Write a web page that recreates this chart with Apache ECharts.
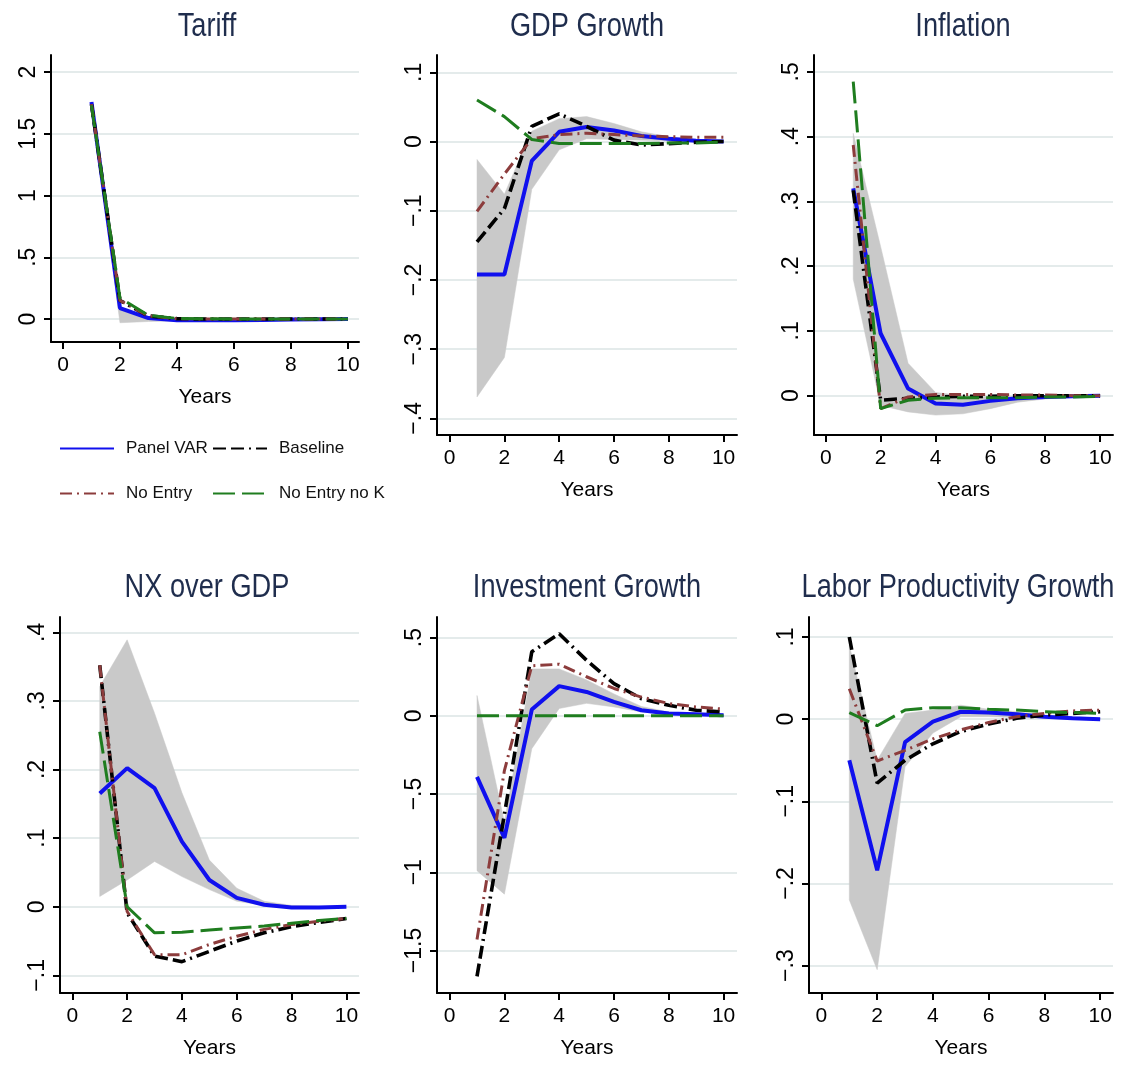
<!DOCTYPE html>
<html>
<head>
<meta charset="utf-8">
<script src="https://cdn.jsdelivr.net/npm/echarts@6/dist/echarts.min.js"></script>
<style>
html,body{margin:0;padding:0;background:#fff;}
#chart{width:1121px;height:1068px;}
</style>
</head>
<body>
<div id="chart"></div>
<script>
// ---------- DATA ----------
const years = [1, 2, 3, 4, 5, 6, 7, 8, 9, 10];
const xTicks = [0, 2, 4, 6, 8, 10];

const seriesNames = ['Panel VAR', 'Baseline', 'No Entry', 'No Entry no K'];

// Tariff
const tariffTicks = [0, 0.5, 1, 1.5, 2];
const tariffVAR      = [1.758, 0.089, 0.008, -0.01, -0.01, -0.01, -0.008, -0.004, -0.002, 0];
const tariffBaseline = [1.74, 0.15, 0.025, 0.003, 0, 0, 0, 0, 0, 0];
const tariffNoEntry  = [1.74, 0.15, 0.025, 0.003, 0, 0, 0, 0, 0, 0];
const tariffNoEntryK = [1.73, 0.17, 0.03, 0.005, 0.002, 0, 0, 0, 0, 0];
const tariffLo       = [1.74, -0.03, -0.02, -0.015, -0.012, -0.01, -0.008, -0.005, -0.003, 0];
const tariffHi       = [1.76, 0.1, 0.02, 0.005, 0.002, 0, 0, 0, 0, 0];

// GDP Growth
const gdpTicks = [-0.4, -0.3, -0.2, -0.1, 0, 0.1];
const gdpVAR      = [-0.192, -0.192, -0.028, 0.014, 0.021, 0.016, 0.008, 0.004, 0.001, 0];
const gdpBaseline = [-0.145, -0.097, 0.022, 0.040, 0.022, 0.002, -0.005, -0.003, -0.001, 0];
const gdpNoEntry  = [-0.101, -0.047, 0.004, 0.010, 0.012, 0.010, 0.008, 0.007, 0.006, 0.006];
const gdpNoEntryK = [0.060, 0.036, 0.003, -0.003, -0.003, -0.003, -0.003, -0.002, -0.002, -0.001];
const gdpLo       = [-0.369, -0.312, -0.069, -0.012, 0.004, 0.003, 0.002, 0.001, 0, 0];
const gdpHi       = [-0.026, -0.076, 0.015, 0.033, 0.036, 0.026, 0.014, 0.007, 0.003, 0.001];

// Inflation
const inflTicks = [0, 0.1, 0.2, 0.3, 0.4, 0.5];
const inflVAR      = [0.32, 0.096, 0.011, -0.012, -0.014, -0.008, -0.004, -0.002, -0.001, 0];
const inflBaseline = [0.317, -0.007, -0.004, -0.002, -0.001, -0.001, 0, 0, 0, 0];
const inflNoEntry  = [0.387, -0.02, -0.002, 0.002, 0.002, 0.002, 0.001, 0.001, 0, 0];
const inflNoEntryK = [0.485, -0.02, -0.007, -0.004, -0.003, -0.003, -0.003, -0.002, -0.002, -0.001];
const inflLo       = [0.18, -0.015, -0.025, -0.03, -0.028, -0.02, -0.01, -0.005, -0.002, 0];
const inflHi       = [0.405, 0.23, 0.05, 0.005, 0, -0.002, -0.001, 0, 0, 0];

// NX over GDP
const nxTicks = [-0.1, 0, 0.1, 0.2, 0.3, 0.4];
const nxVAR      = [0.165, 0.202, 0.173, 0.095, 0.039, 0.013, 0.003, -0.001, -0.001, 0];
const nxBaseline = [0.352, -0.009, -0.072, -0.080, -0.065, -0.050, -0.038, -0.029, -0.023, -0.017];
const nxNoEntry  = [0.352, -0.007, -0.070, -0.070, -0.055, -0.043, -0.033, -0.026, -0.021, -0.017];
const nxNoEntryK = [0.255, 0.0, -0.038, -0.037, -0.034, -0.031, -0.028, -0.024, -0.020, -0.017];
const nxLo       = [0.015, 0.039, 0.066, 0.044, 0.025, 0.008, 0.002, 0, 0, 0];
const nxHi       = [0.321, 0.389, 0.282, 0.166, 0.068, 0.027, 0.008, 0.002, 0.001, 0];

// Investment Growth
const invTicks = [-1.5, -1, -0.5, 0, 0.5];
const invVAR      = [-0.39, -0.78, 0.04, 0.19, 0.153, 0.089, 0.036, 0.015, 0.01, 0.004];
const invBaseline = [-1.666, -0.63, 0.41, 0.525, 0.355, 0.206, 0.11, 0.068, 0.036, 0.025];
const invNoEntry  = [-1.43, -0.35, 0.32, 0.33, 0.25, 0.175, 0.12, 0.079, 0.057, 0.043];
const invNoEntryK = [0, 0, 0, 0, 0, 0, 0, 0, 0, 0];
const invLo       = [-0.99, -1.14, -0.21, 0.047, 0.08, 0.057, 0.025, 0.01, 0.005, 0];
const invHi       = [0.13, -0.68, 0.30, 0.30, 0.23, 0.14, 0.06, 0.025, 0.01, 0.005];

// Labor Productivity Growth
const labTicks = [-0.3, -0.2, -0.1, 0, 0.1];
const labVAR      = [-0.05, -0.184, -0.028, -0.003, 0.009, 0.008, 0.006, 0.003, 0.001, 0];
const labBaseline = [0.1, -0.078, -0.05, -0.03, -0.015, -0.006, 0.001, 0.005, 0.007, 0.009];
const labNoEntry  = [0.037, -0.051, -0.038, -0.024, -0.013, -0.004, 0.003, 0.007, 0.010, 0.011];
const labNoEntryK = [0.008, -0.008, 0.011, 0.014, 0.014, 0.012, 0.011, 0.009, 0.008, 0.007];
const labLo       = [-0.22, -0.305, -0.058, -0.017, 0.003, 0.003, 0.002, 0.001, 0, 0];
const labHi       = [0.09, -0.05, 0.007, 0.011, 0.017, 0.012, 0.009, 0.005, 0.003, 0.001];

// ---------- LAYOUT / STYLE ----------
const SANS = "'Liberation Sans', Arial, sans-serif";

const panels = [
  {title: 'Tariff', ticks: tariffTicks, lines: [tariffVAR, tariffBaseline, tariffNoEntry, tariffNoEntryK], lo: tariffLo, hi: tariffHi,
   grid: {left: 51, top: 55, width: 308, height: 287}, x: [-0.42, 10.39], y: [-0.186, 2.138], tx: 207, ty: 27},
  {title: 'GDP Growth', ticks: gdpTicks, lines: [gdpVAR, gdpBaseline, gdpNoEntry, gdpNoEntryK], lo: gdpLo, hi: gdpHi,
   grid: {left: 437, top: 55, width: 300, height: 380}, x: [-0.46, 10.49], y: [-0.424, 0.125], tx: 587, ty: 27},
  {title: 'Inflation', ticks: inflTicks, lines: [inflVAR, inflBaseline, inflNoEntry, inflNoEntryK], lo: inflLo, hi: inflHi,
   grid: {left: 814, top: 55, width: 299, height: 380}, x: [-0.43, 10.47], y: [-0.0607, 0.526], tx: 963, ty: 27},
  {title: 'NX over GDP', ticks: nxTicks, lines: [nxVAR, nxBaseline, nxNoEntry, nxNoEntryK], lo: nxLo, hi: nxHi,
   grid: {left: 60, top: 617, width: 299, height: 376}, x: [-0.45, 10.46], y: [-0.1257, 0.4223], tx: 207, ty: 588},
  {title: 'Investment Growth', ticks: invTicks, lines: [invVAR, invBaseline, invNoEntry, invNoEntryK], lo: invLo, hi: invHi,
   grid: {left: 437, top: 617, width: 300, height: 376}, x: [-0.46, 10.49], y: [-1.772, 0.632], tx: 587, ty: 588},
  {title: 'Labor Productivity Growth', ticks: labTicks, lines: [labVAR, labBaseline, labNoEntry, labNoEntryK], lo: labLo, hi: labHi,
   grid: {left: 809, top: 617, width: 304, height: 376}, x: [-0.446, 10.46], y: [-0.3333, 0.1243], tx: 958, ty: 588}
];

const lineStyles = [
  {color: '#1010ee', width: 4, type: 'solid'},
  {color: '#000000', width: 3.6, type: [13, 5, 13, 5, 2, 5]},
  {color: '#8c3c3c', width: 3, type: [12, 5, 2, 5]},
  {color: '#1f7d1f', width: 3, type: [22, 7]}
];

function fmt(v) {
  let s = String(Math.round(v * 1000) / 1000);
  s = s.replace(/^(-?)0\./, '$1.');
  return s.replace('-', '\u2212');
}

const grids = [], xAxes = [], yAxes = [], graphics = [], series = [];
panels.forEach((p, i) => {
  grids.push(Object.assign({containLabel: false}, p.grid));
  graphics.push({
    type: 'text', x: p.tx, y: p.ty, scaleX: 0.8, silent: true,
    style: {text: p.title, font: '34px ' + SANS, fill: '#1f2d4d', textAlign: 'center', textVerticalAlign: 'middle'}
  });
  xAxes.push({
    type: 'value', gridIndex: i, min: p.x[0], max: p.x[1],
    name: 'Years', nameLocation: 'middle', nameGap: 45,
    nameTextStyle: {fontFamily: SANS, fontSize: 21, color: '#000'},
    axisLine: {show: true, onZero: false, lineStyle: {color: '#000', width: 2}},
    axisTick: {show: true, length: 7, customValues: xTicks, lineStyle: {color: '#000', width: 2}},
    axisLabel: {customValues: xTicks, margin: 13, fontFamily: SANS, fontSize: 21, color: '#000', formatter: fmt},
    splitLine: {show: false}
  });
  yAxes.push({
    type: 'value', gridIndex: i, min: p.y[0], max: p.y[1],
    axisLine: {show: true, onZero: false, lineStyle: {color: '#000', width: 2}},
    axisTick: {show: true, length: 7, customValues: p.ticks, lineStyle: {color: '#000', width: 2}},
    axisLabel: {customValues: p.ticks, rotate: 90, margin: 11, fontFamily: SANS, fontSize: 23, color: '#000', formatter: fmt},
    splitLine: {show: true, lineStyle: {color: '#e4ebeb', width: 2}}
  });
  // confidence band polygon (lower / upper bound) through the axes' scales
  series.push({
    type: 'custom', xAxisIndex: i, yAxisIndex: i, silent: true, z: 1,
    data: years.map((x, k) => [x, p.lo[k], p.hi[k]]),
    encode: {x: 0, y: [1, 2]},
    renderItem: function (params, api) {
      if (params.dataIndexInside !== 0) return null;
      const n = params.dataInsideLength;
      const pts = [];
      for (let k = 0; k < n; k++) pts.push(api.coord([api.value(0, k), api.value(2, k)]));
      for (let k = n - 1; k >= 0; k--) pts.push(api.coord([api.value(0, k), api.value(1, k)]));
      return {type: 'polygon', shape: {points: pts}, style: {fill: '#c9c9c9', stroke: '#c9c9c9', lineWidth: 0.5}};
    }
  });
  p.lines.forEach((arr, j) => {
    series.push({
      name: seriesNames[j], type: 'line', xAxisIndex: i, yAxisIndex: i,
      data: years.map((x, k) => [x, arr[k]]), symbol: 'none',
      itemStyle: {color: lineStyles[j].color},
      lineStyle: lineStyles[j], z: 2 + j
    });
  });
});

const legendPos = [[59, 440], [212, 440], [59, 485], [212, 485]];
const legends = seriesNames.map((n, k) => ({
  data: [n], left: legendPos[k][0], top: legendPos[k][1], padding: 0,
  itemWidth: 54, itemHeight: 20, selectedMode: false,
  itemStyle: {color: 'rgba(0,0,0,0)', borderWidth: 0, opacity: 0},
  textStyle: {fontFamily: SANS, fontSize: 17, color: '#111', padding: [0, 0, 0, 7]}
}));

const chart = echarts.init(document.getElementById('chart'), null, {renderer: 'canvas'});
chart.setOption({
  animation: false,
  backgroundColor: '#ffffff',
  graphic: graphics,
  legend: legends,
  grid: grids,
  xAxis: xAxes,
  yAxis: yAxes,
  series: series
});
</script>
</body>
</html>
